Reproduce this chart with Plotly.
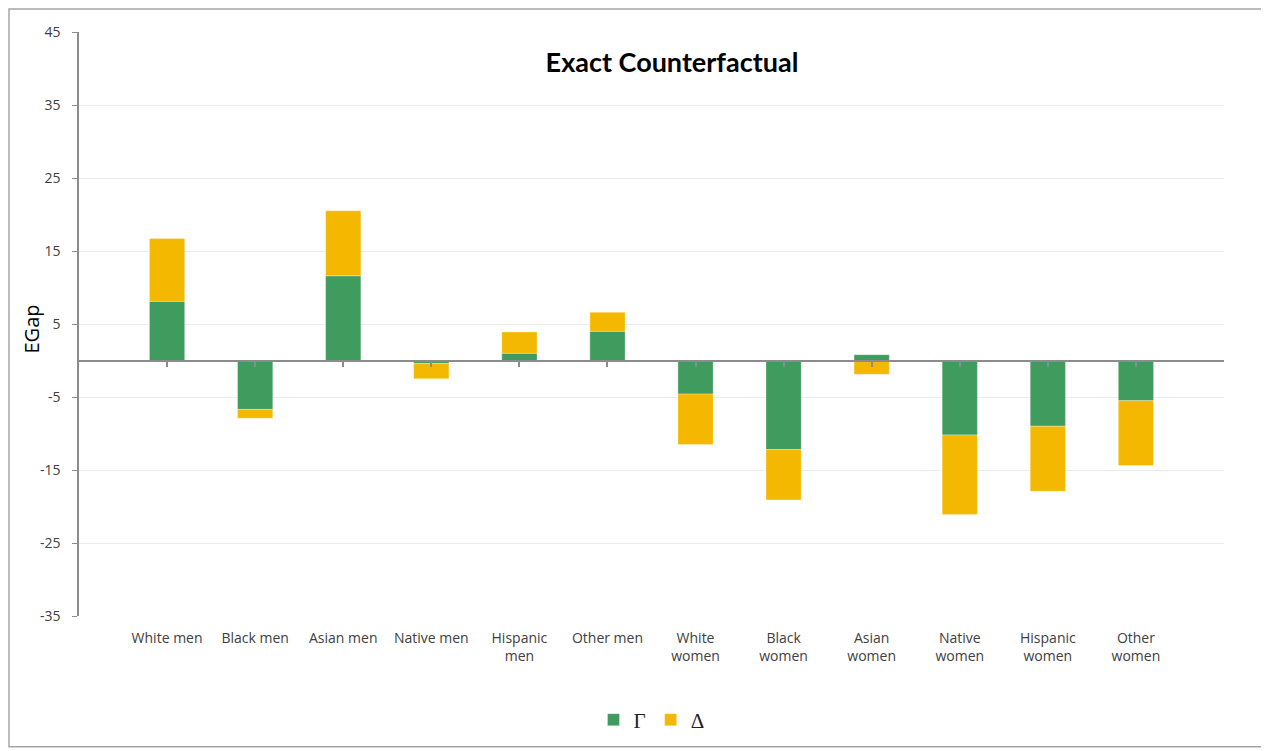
import plotly.graph_objects as go

categories = ["White men", "Black men", "Asian men", "Native men", "Hispanic men", "Other men",
              "White women", "Black women", "Asian women", "Native women", "Hispanic women", "Other women"]
tick_labels = ["White men", "Black men", "Asian men", "Native men", "Hispanic<br>men", "Other men",
               "White<br>women", "Black<br>women", "Asian<br>women", "Native<br>women", "Hispanic<br>women", "Other<br>women"]
gamma = [8.1, -6.7, 11.6, -0.4, 1.0, 4.0, -4.6, -12.2, 0.8, -10.2, -9.0, -5.5]
delta = [8.6, -1.2, 8.9, -2.1, 2.9, 2.6, -6.9, -6.9, -1.9, -10.9, -8.9, -8.9]
y_ticks = [-35, -25, -15, -5, 5, 15, 25, 35, 45]
y_tick_labels = ["-35", "-25", "-15", "-5", "5", "15", "25", "35", "45"]
y_title = "EGap"

# page is offset by the default 8px body margin
OFF = 8
W, H = 1269 - OFF, 751 - OFF
L, T = 79 - OFF, 32 - OFF
R = W - (1224 - OFF)
B = H - (617 - OFF)
pw, ph = W - L - R, H - T - B
ymin, ymax = -35, 45

GREEN = "#409B5E"
YELLOW = "#F5B800"

fig = go.Figure()
fig.add_trace(go.Bar(x=categories, y=gamma, name="Γ", marker=dict(color=GREEN, line=dict(color="rgba(255,255,255,0.6)", width=0.5)), width=0.4))
fig.add_trace(go.Bar(x=categories, y=delta, name="Δ", marker=dict(color=YELLOW, line=dict(color="rgba(255,255,255,0.6)", width=0.5)), width=0.4))
# helper trace to render the zero-position axis carrying tick marks
fig.add_trace(go.Scatter(x=categories, y=[None] * len(categories), xaxis="x2", mode="markers",
                         showlegend=False, hoverinfo="skip"))

zero_pos = (0 - ymin) / (ymax - ymin)

fig.update_layout(
    width=W, height=H,
    margin=dict(l=L, r=R, t=T, b=B),
    barmode="relative",
    plot_bgcolor="white", paper_bgcolor="white",
    font=dict(family="Open Sans, sans-serif", size=14, color="#404040"),
    title=dict(text="<b>Exact Counterfactual</b>", x=(672 - OFF) / W, xanchor="center",
               y=1 - (63 - OFF) / H, yanchor="middle",
               yref="container", font=dict(family="Lato, sans-serif", size=27, color="black")),
    xaxis=dict(type="category", categoryorder="array", categoryarray=categories, range=[-1, 12],
               tickvals=categories, ticktext=tick_labels, showline=False, ticks="", showgrid=False,
               zeroline=False, tickfont=dict(size=14, color="#404040"), ticklabelstandoff=12),
    xaxis2=dict(type="category", categoryorder="array", categoryarray=categories, range=[-1, 12],
                overlaying="x", anchor="free", position=zero_pos, side="bottom",
                showline=True, linecolor="#8c8c8c", linewidth=2, ticks="outside", ticklen=5,
                tickcolor="#8c8c8c", tickwidth=1.5, showticklabels=False, showgrid=False, zeroline=False),
    yaxis=dict(range=[ymin, ymax], tickvals=y_ticks, ticktext=y_tick_labels, showgrid=True,
               gridcolor="#ececec", gridwidth=1,
               zeroline=False, showline=True, linecolor="#8c8c8c", linewidth=1.5, ticks="outside",
               ticklen=5, tickcolor="#8c8c8c", tickfont=dict(size=14, color="#404040"),
               ticklabelstandoff=9),
    legend=dict(orientation="h", x=0.5, xanchor="center", y=(617 - 720) / ph, yanchor="middle",
                font=dict(family="Liberation Serif, serif", size=21, color="#222222"),
                itemwidth=30, traceorder="normal"),
    annotations=[dict(text=y_title, xref="paper", yref="paper", x=(31 - 79) / pw, y=(617 - 330) / ph,
                      xanchor="center", yanchor="middle", textangle=-90, showarrow=False,
                      font=dict(size=20, color="black"))],
    shapes=[dict(type="rect", xref="paper", yref="paper",
                 x0=(1 - L) / pw, x1=(W - 3 - L) / pw,
                 y0=(ph - (H - 3 - T)) / ph, y1=(ph - (1 - T)) / ph,
                 line=dict(color="#a6a6a6", width=1.5), fillcolor="rgba(0,0,0,0)", layer="below")],
)

fig.write_html("out.html")
